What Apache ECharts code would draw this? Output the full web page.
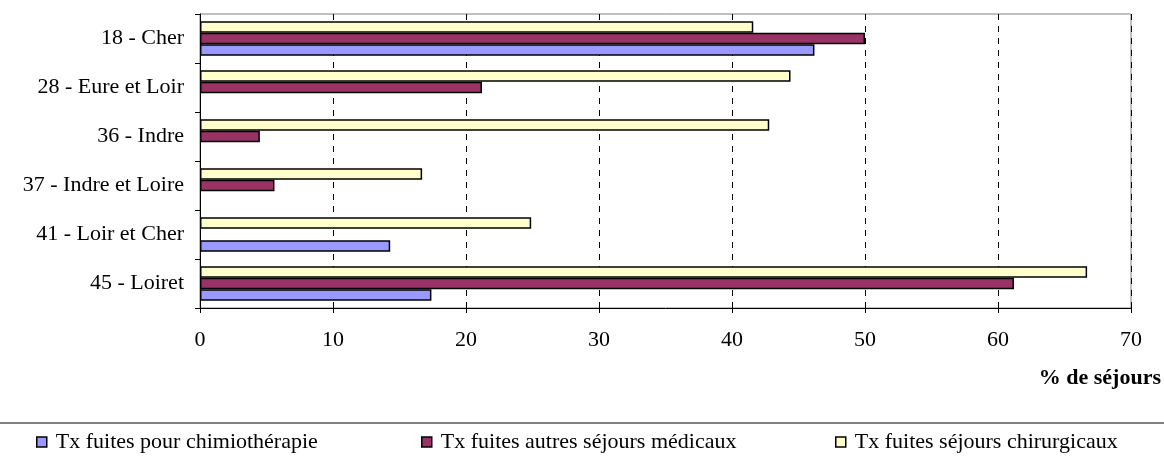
<!DOCTYPE html>
<html><head><meta charset="utf-8">
<script src="https://cdn.jsdelivr.net/npm/echarts@6/dist/echarts.min.js"></script>
<style>html,body{margin:0;padding:0;background:#fff}#c{width:1164px;height:459px}</style>
</head><body><div id="c"></div>
<script>
var categories = ['18 - Cher', '28 - Eure et Loir', '36 - Indre', '37 - Indre et Loire', '41 - Loir et Cher', '45 - Loiret'];
var chimio = [46.2, null, null, null, 14.3, 17.4];
var medicaux = [50.0, 21.2, 4.5, 5.6, null, 61.2];
var chirurgicaux = [41.6, 44.4, 42.8, 16.7, 24.9, 66.7];
var xTicks = [0, 10, 20, 30, 40, 50, 60, 70];
var seriesNames = ['Tx fuites pour chimiothérapie', 'Tx fuites autres séjours médicaux', 'Tx fuites séjours chirurgicaux'];
var colors = ['#9999FF', '#993366', '#FFFFCC'];
var font = 'Liberation Serif';
var chart = echarts.init(document.getElementById('c'));
function mkSeries(i, data) {
  return { name: seriesNames[i], type: 'bar', data: data, barGap: '0%', barCategoryGap: '30%',
    itemStyle: { color: colors[i], borderColor: '#000', borderWidth: 1.5 }, z: 3 - i };
}
function mkLegend(i, left) {
  return { data: [seriesNames[i]], left: left, top: 431, padding: 0, itemWidth: 10, itemHeight: 10, itemGap: 0,
    icon: 'rect', itemStyle: { borderColor: '#000', borderWidth: 1.5 },
    textStyle: { fontFamily: font, fontSize: 22, color: '#000', padding: [0, 0, 0, 4] } };
}
chart.setOption({
  animation: false,
  grid: { left: 200, right: 33, top: 14, bottom: 151, show: true, borderColor: '#808080', borderWidth: 1 },
  xAxis: { type: 'value', min: xTicks[0], max: xTicks[xTicks.length - 1], interval: 10,
    name: '% de séjours', nameLocation: 'end', nameGap: 0,
    nameTextStyle: { fontFamily: font, fontSize: 22, fontWeight: 'bold', color: '#000', align: 'right', verticalAlign: 'top', padding: [59, -30, 0, 0] },
    axisLine: { show: true, lineStyle: { color: '#000' } },
    axisTick: { show: true, inside: false, length: 5, lineStyle: { color: '#000' } },
    axisLabel: { fontFamily: font, fontSize: 22, color: '#000', margin: 21 },
    splitLine: { show: true, lineStyle: { color: '#000', type: [6, 6] } } },
  yAxis: { type: 'category', data: categories, inverse: true,
    axisLine: { show: true, lineStyle: { color: '#000' } },
    axisTick: { show: true, length: 5, lineStyle: { color: '#000' } },
    axisLabel: { fontFamily: font, fontSize: 22, color: '#000', margin: 16 } },
  legend: [mkLegend(0, 36), mkLegend(1, 421), mkLegend(2, 835)],
  graphic: [{ type: 'line', shape: { x1: 0, y1: 423, x2: 1164, y2: 423 }, style: { stroke: '#808080', lineWidth: 2 } }],
  series: [mkSeries(2, chirurgicaux), mkSeries(1, medicaux), mkSeries(0, chimio)]
});
</script></body></html>
